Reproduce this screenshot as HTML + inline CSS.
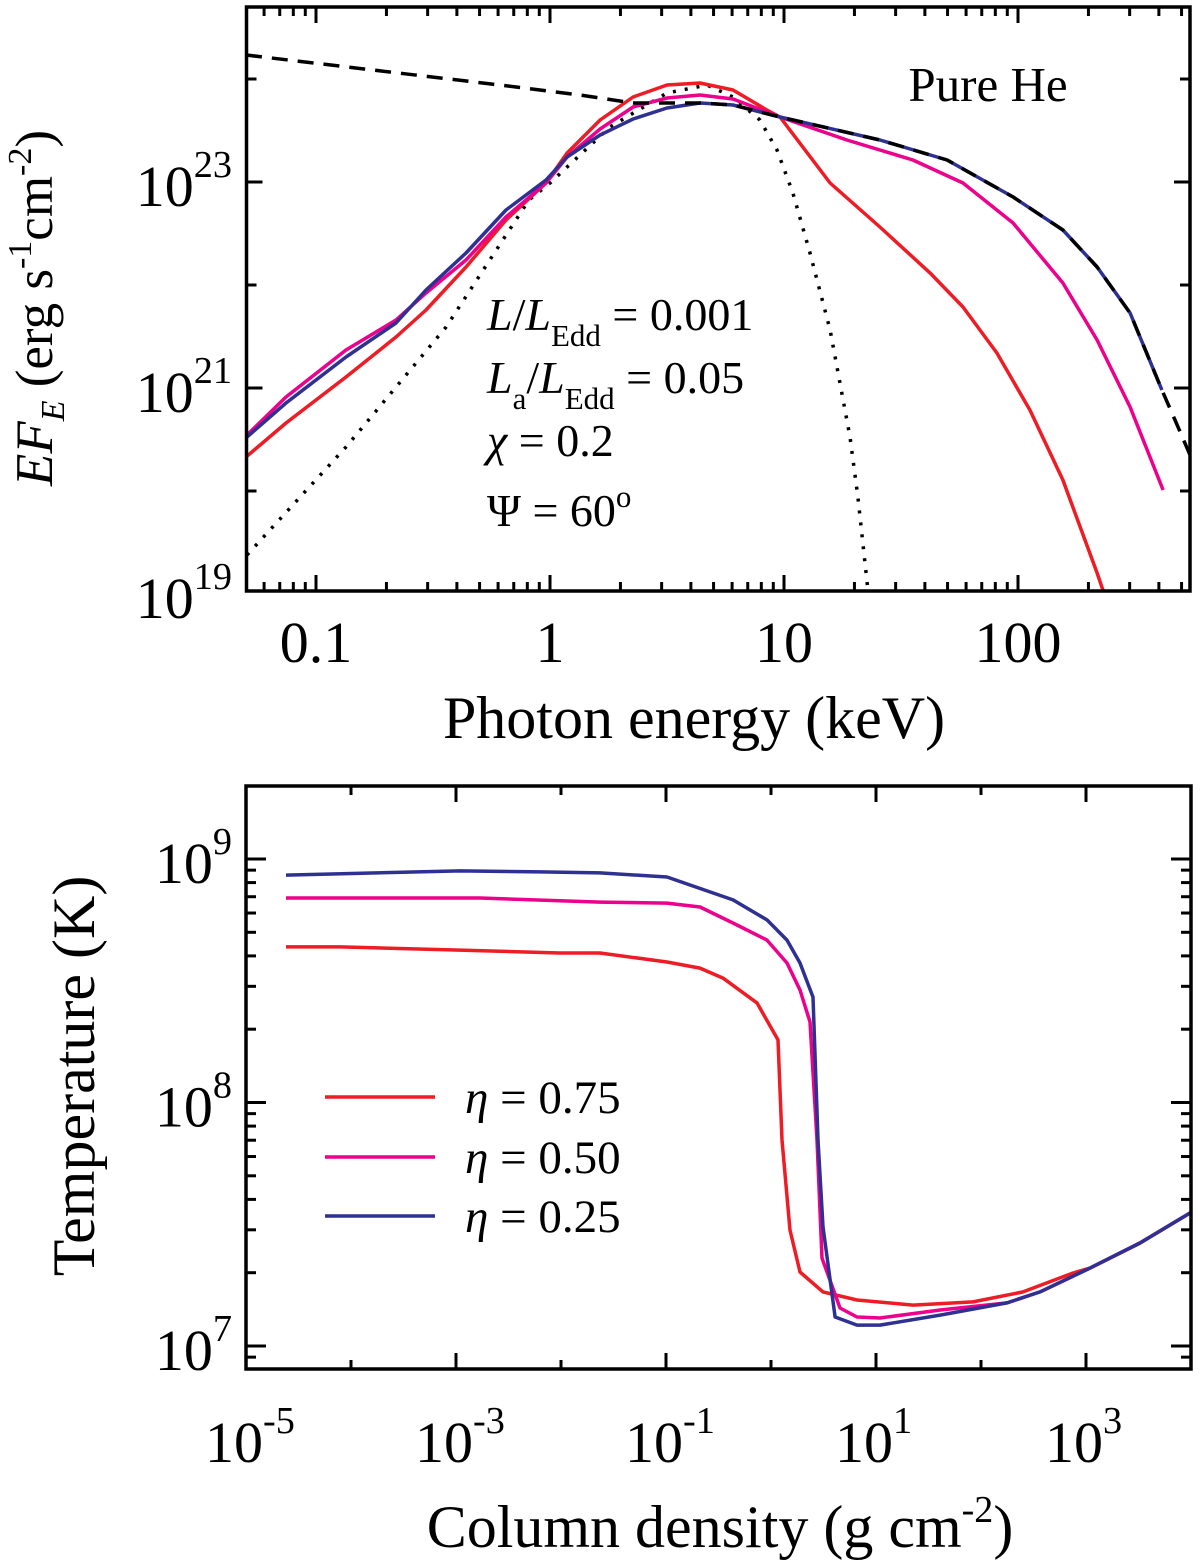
<!DOCTYPE html>
<html><head><meta charset="utf-8"><style>
html,body{margin:0;padding:0;background:#fff;}
svg{display:block;font-family:"Liberation Serif","DejaVu Serif",serif;}
</style></head><body>
<svg id="fig" width="1200" height="1562" viewBox="0 0 1200 1562" xmlns="http://www.w3.org/2000/svg">
<g id="top"></g>
<g id="bot"></g>
<g fill="#000">
 <text transform="translate(52,308) rotate(-90)" text-anchor="middle" font-size="53"><tspan font-style="italic">EF</tspan><tspan font-style="italic" font-size="34" dy="12">E</tspan><tspan dy="-12"> (erg s</tspan><tspan font-size="34" dy="-21">-1</tspan><tspan dy="21">cm</tspan><tspan font-size="34" dy="-21">-2</tspan><tspan dy="21">)</tspan></text>
 <text x="694" y="738" text-anchor="middle" font-size="60">Photon energy (keV)</text>
 <text x="988" y="101" text-anchor="middle" font-size="49">Pure He</text>
 <text x="487" y="330" font-size="46"><tspan font-style="italic">L</tspan>/<tspan font-style="italic">L</tspan><tspan font-size="31" dy="16">Edd</tspan><tspan dy="-16"> = 0.001</tspan></text>
 <text x="487" y="393" font-size="46"><tspan font-style="italic">L</tspan><tspan font-size="31" dy="16">a</tspan><tspan dy="-16">/</tspan><tspan font-style="italic">L</tspan><tspan font-size="31" dy="16">Edd</tspan><tspan dy="-16"> = 0.05</tspan></text>
 <text x="487" y="456" font-size="46"><tspan font-style="italic">χ</tspan> = 0.2</text>
 <text x="487" y="526" font-size="46">Ψ = 60<tspan font-size="31" dy="-19">o</tspan></text>
 <text transform="translate(94,1076) rotate(-90)" text-anchor="middle" font-size="60">Temperature (K)</text>
 <text x="720" y="1547" text-anchor="middle" font-size="60">Column density (g cm<tspan font-size="38" dy="-25">-2</tspan><tspan dy="25">)</tspan></text>
</g>
<g>
 <line x1="325" y1="1097" x2="435" y2="1097" stroke="#ee1c24" stroke-width="3.5"/>
 <text x="465" y="1113" font-size="47"><tspan font-style="italic">η</tspan> = 0.75</text>
 <line x1="325" y1="1157" x2="435" y2="1157" stroke="#ec008c" stroke-width="3.5"/>
 <text x="465" y="1173" font-size="47"><tspan font-style="italic">η</tspan> = 0.50</text>
 <line x1="325" y1="1216" x2="435" y2="1216" stroke="#2e3192" stroke-width="3.5"/>
 <text x="465" y="1232" font-size="47"><tspan font-style="italic">η</tspan> = 0.25</text>
</g>
</svg>
<script>
// ---- top panel data (log10 E [keV], log10 EF_E) ----
const blueE=[-1.295,-1.128,-0.872,-0.658,-0.530,-0.359,-0.188,-0.017,0.073,0.214,0.355,0.500,0.641,0.782,0.983,1.410,1.697,1.979,2.192,2.338,2.479,2.615];
const blueF=[20.524,20.854,21.301,21.631,21.951,22.311,22.728,23.019,23.243,23.456,23.612,23.718,23.767,23.748,23.631,23.408,23.214,22.854,22.534,22.175,21.728,20.981];
const magE=[-1.295,-1.128,-0.872,-0.658,-0.530,-0.359,-0.188,-0.017,0.073,0.214,0.355,0.500,0.641,0.782,0.983,1.269,1.551,1.765,1.979,2.192,2.338,2.479,2.620];
const magF=[20.544,20.913,21.369,21.660,21.922,22.243,22.660,22.990,23.243,23.515,23.728,23.816,23.845,23.806,23.631,23.408,23.214,22.990,22.602,22.019,21.466,20.816,20.010];
const redE=[-1.299,-1.128,-0.872,-0.658,-0.530,-0.359,-0.188,-0.017,0.073,0.214,0.355,0.500,0.641,0.782,0.927,0.983,1.197,1.410,1.624,1.765,1.910,2.051,2.192,2.338,2.363];
const redF=[20.330,20.660,21.107,21.495,21.757,22.175,22.631,22.990,23.282,23.602,23.825,23.942,23.961,23.893,23.699,23.631,22.990,22.563,22.117,21.786,21.340,20.786,20.107,19.204,19.039];
const dashE=[-1.299,-0.214,0.128,0.355,0.641,0.782,0.983,1.410,1.697,1.979,2.192,2.338,2.479,2.615,2.671,2.735];
const dashF=[24.233,23.942,23.845,23.767,23.767,23.748,23.631,23.408,23.214,22.854,22.534,22.175,21.728,20.981,20.689,20.350];
const dotE=[-1.295,-0.872,-0.444,-0.090,0.0,0.256,0.500,0.671,0.782,0.897,0.970,1.038,1.111,1.197,1.282,1.316,1.359];
const dotF=[19.379,20.427,21.592,22.825,22.990,23.534,23.864,23.942,23.825,23.602,23.311,22.893,22.311,21.563,20.524,19.942,19.029];
const topXTicks=["0.1","1","10","100"];
const topYTicks=["19","21","23"];
// ---- bottom panel data (log10 column density, log10 T) ----
const bN25=[-4.619,-2.962,-2.2,-1.629,-0.990,-0.362,-0.038,0.152,0.276,0.400,0.448,0.495,0.610,0.819,1.038,1.610,2.248,2.562,3.038,3.514,3.990];
const bT25=[8.934,8.951,8.947,8.943,8.926,8.832,8.750,8.667,8.573,8.433,7.846,7.489,7.119,7.086,7.086,7.127,7.177,7.222,7.320,7.423,7.546];
const bN50=[-4.619,-2.771,-1.629,-0.990,-0.676,-0.362,-0.038,0.152,0.276,0.371,0.438,0.486,0.657,0.819,1.038,1.610,2.248,2.562,3.038,3.514,3.990];
const bT50=[8.840,8.840,8.823,8.819,8.803,8.737,8.667,8.573,8.462,8.331,7.846,7.361,7.156,7.119,7.115,7.148,7.177,7.222,7.320,7.423,7.546];
const bN75=[-4.619,-4.105,-2.962,-2.010,-1.629,-0.990,-0.676,-0.457,-0.133,0.067,0.105,0.181,0.276,0.495,0.819,1.352,1.924,2.400,2.876,3.038,3.514,3.990];
const bT75=[8.639,8.639,8.626,8.614,8.614,8.577,8.552,8.511,8.409,8.257,7.846,7.476,7.304,7.222,7.189,7.168,7.181,7.222,7.300,7.320,7.423,7.546];
const botXTicks=["-5","-3","-1","1","3"];
const botYTicks=["7","8","9"];

const NS="http://www.w3.org/2000/svg";
function mk(parent,tag,attrs){const e=document.createElementNS(NS,tag);for(const k in attrs)e.setAttribute(k,attrs[k]);parent.appendChild(e);return e;}

const tX=v=>316+(v+1)*234, tY=v=>182-(v-23)*103;
const T={x0:246.5,x1:1190,y0:7,y1:591};
const bX=v=>246+(v+5)*105, bY=v=>859-(v-9)*243.5;
const B={x0:246,x1:1191,y0:786,y1:1369};

function frame(g,F,name){
 const r=mk(g,'rect',{x:F.x0,y:F.y0,width:F.x1-F.x0,height:F.y1-F.y0,fill:'none',stroke:'#000','stroke-width':3.5});
 
 
}
function tick(g,x1,y1,x2,y2,name){
 const l=mk(g,'line',{x1,y1,x2,y2,stroke:'#000','stroke-width':3});
 
 
}
function line(g,xs,ys,fx,fy,color,dash,name,clipId){
 const d=xs.map((v,i)=>(i?'L':'M')+fx(v).toFixed(1)+','+fy(ys[i]).toFixed(1)).join(' ');
 const p=mk(g,'path',{d,fill:'none',stroke:color,'stroke-width':3.5,'stroke-linejoin':'round','clip-path':'url(#'+clipId+')'});
 if(dash)p.setAttribute('stroke-dasharray',dash);
 
 
}
function txt(g,x,y,base,sup,size,anchor,name){
 const t=mk(g,'text',{x,y,'font-size':size,'text-anchor':anchor});
 t.textContent=base;
 if(sup){const s=mk(t,'tspan',{'font-size':size*0.66,dy:-size*0.5});s.textContent=sup;}
 
 
 return t;
}
const svg=document.getElementById('fig');
const defs=mk(svg,'defs',{});
const c1=mk(defs,'clipPath',{id:'ct'});mk(c1,'rect',{x:T.x0,y:T.y0,width:T.x1-T.x0,height:T.y1-T.y0});
const c2=mk(defs,'clipPath',{id:'cb'});mk(c2,'rect',{x:B.x0,y:B.y0,width:B.x1-B.x0,height:B.y1-B.y0});

// ---- top panel ----
const gt=document.getElementById('top');
for(let dec=-2;dec<=2;dec++){for(let m=1;m<=9;m++){
 const x=tX(dec+Math.log10(m)); if(x<T.x0+1||x>T.x1-1)continue;
 const L=m===1?16:9;
 tick(gt,x,T.y1,x,T.y1-L,'x-tick-top');tick(gt,x,T.y0,x,T.y0+L,'x-tick-top-mirror');
}}
for(let dec=19;dec<=24;dec++){
 const y=tY(dec); if(y<T.y0||y>T.y1)continue;
 const L=dec%2?16:10;
 tick(gt,T.x0,y,T.x0+L,y,'y-tick-top');tick(gt,T.x1,y,T.x1-L,y,'y-tick-top-mirror');
}
topXTicks.forEach(s=>{txt(gt,tX(Math.log10(parseFloat(s))),662,s,null,58,'middle','x-tick-label-top');});
topYTicks.forEach(s=>{txt(gt,232,tY(+s)+24,'10',s,58,'end','y-tick-label-top');});
line(gt,dotE,dotF,tX,tY,'#000','3 9','blackbody-dotted-line','ct');
line(gt,redE,redF,tX,tY,'#ee1c24',null,'spectrum-red','ct');
line(gt,magE,magF,tX,tY,'#ec008c',null,'spectrum-magenta','ct');
line(gt,blueE,blueF,tX,tY,'#2e3192',null,'spectrum-blue','ct');
line(gt,dashE,dashF,tX,tY,'#000','16 10','dashed-reference-line','ct');
frame(gt,T,'top-plot-frame');

// ---- bottom panel ----
const gb=document.getElementById('bot');
for(let dec=-5;dec<=4;dec++){
 const x=bX(dec); if(x<B.x0-1||x>B.x1-1)continue;
 const L=dec%2?16:9;
 tick(gb,x,B.y1,x,B.y1-L,'x-tick-bottom');tick(gb,x,B.y0,x,B.y0+L,'x-tick-bottom-mirror');
}
for(let dec=6;dec<=9;dec++){for(let m=1;m<=9;m++){
 const y=bY(dec+Math.log10(m)); if(y<B.y0+1||y>B.y1-1)continue;
 const L=m===1?20:10;
 tick(gb,B.x0,y,B.x0+L,y,'y-tick-bottom');tick(gb,B.x1,y,B.x1-L,y,'y-tick-bottom-mirror');
}}
botXTicks.forEach(s=>{txt(gb,bX(+s)-41,1462,'10',s,58,'start','x-tick-label-bottom');});
botYTicks.forEach(s=>{txt(gb,232,bY(+s)+24,'10',s,58,'end','y-tick-label-bottom');});
line(gb,bN75,bT75,bX,bY,'#ee1c24',null,'temperature-eta-075','cb');
line(gb,bN50,bT50,bX,bY,'#ec008c',null,'temperature-eta-050','cb');
line(gb,bN25,bT25,bX,bY,'#2e3192',null,'temperature-eta-025','cb');
frame(gb,B,'bottom-plot-frame');
</script>
</body></html>
